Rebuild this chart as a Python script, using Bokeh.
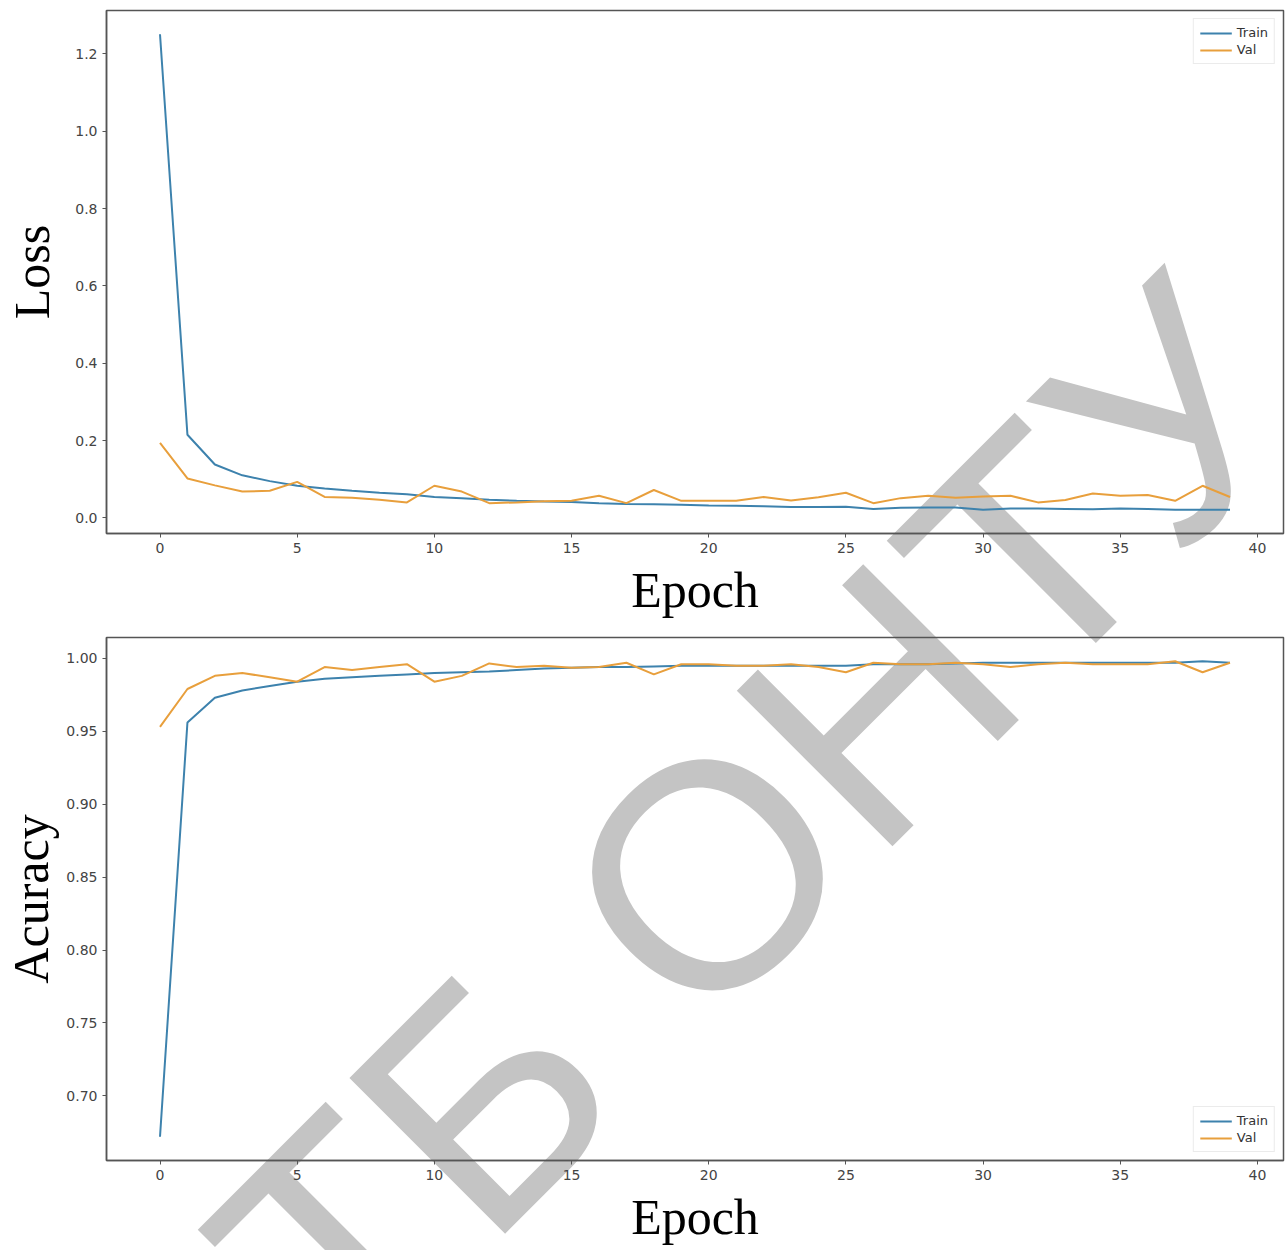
import math
from bokeh.plotting import figure
from bokeh.layouts import column
from bokeh.models import Range1d, Label, Legend, LegendItem, FixedTicker
from bokeh.embed import file_html
from bokeh.resources import INLINE

epochs = list(range(40))

train_loss = [1.251, 0.215, 0.138, 0.110, 0.095, 0.083, 0.076, 0.070, 0.065, 0.061,
              0.054, 0.051, 0.047, 0.044, 0.042, 0.041, 0.038, 0.036, 0.035, 0.034,
              0.032, 0.031, 0.030, 0.028, 0.028, 0.029, 0.023, 0.026, 0.027, 0.027,
              0.021, 0.024, 0.024, 0.023, 0.022, 0.024, 0.023, 0.021, 0.021, 0.021]
val_loss = [0.194, 0.102, 0.084, 0.068, 0.070, 0.093, 0.054, 0.052, 0.047, 0.040,
            0.083, 0.068, 0.038, 0.040, 0.043, 0.044, 0.057, 0.038, 0.072, 0.044,
            0.044, 0.044, 0.054, 0.045, 0.053, 0.065, 0.038, 0.051, 0.057, 0.052,
            0.055, 0.057, 0.040, 0.046, 0.063, 0.057, 0.059, 0.044, 0.083, 0.054]

train_acc = [0.672, 0.956, 0.973, 0.978, 0.981, 0.984, 0.986, 0.987, 0.988, 0.989,
             0.990, 0.9905, 0.991, 0.992, 0.993, 0.9935, 0.994, 0.994, 0.9945, 0.995,
             0.995, 0.995, 0.995, 0.995, 0.995, 0.995, 0.996, 0.996, 0.996, 0.9965,
             0.997, 0.997, 0.997, 0.997, 0.997, 0.997, 0.997, 0.997, 0.998, 0.997]
val_acc = [0.953, 0.979, 0.988, 0.990, 0.987, 0.984, 0.994, 0.992, 0.994, 0.996,
           0.984, 0.988, 0.9965, 0.994, 0.995, 0.9935, 0.994, 0.997, 0.989, 0.996,
           0.996, 0.995, 0.995, 0.996, 0.994, 0.9905, 0.997, 0.996, 0.996, 0.997,
           0.996, 0.994, 0.996, 0.997, 0.996, 0.996, 0.996, 0.998, 0.9905, 0.997]

x_ticks = [0, 5, 10, 15, 20, 25, 30, 35, 40]
loss_ticks = [0.0, 0.2, 0.4, 0.6, 0.8, 1.0, 1.2]
acc_ticks = [0.70, 0.75, 0.80, 0.85, 0.90, 0.95, 1.00]
loss_tick_labels = ["0.0", "0.2", "0.4", "0.6", "0.8", "1.0", "1.2"]
acc_tick_labels = ["0.70", "0.75", "0.80", "0.85", "0.90", "0.95", "1.00"]

series_names = ["Train", "Val"]
TRAIN_C = "#3d82ad"
VAL_C = "#e89f3c"
W = 1288
H_TOTAL = 1250
FRAME_L, FRAME_R = 105, 1283
WATERMARK = "ТБ ОНТУ"
WM_CENTER = (710, 826)   # page pixel position of watermark centre


def pad(lo, hi):
    m = (hi - lo) * 0.05
    return lo - m, hi + m


def make(yvals_a, yvals_b, ticks, tick_labels, ylabel, height, top_b, bot_b,
         legend_loc, label_standoff):
    x0, x1 = pad(0, 39)
    y0, y1 = pad(min(yvals_a + yvals_b), max(yvals_a + yvals_b))
    p = figure(width=W, height=height, output_backend="svg", toolbar_location=None,
               x_range=Range1d(x0, x1), y_range=Range1d(y0, y1),
               min_border_left=FRAME_L, min_border_right=W - FRAME_R,
               min_border_top=top_b, min_border_bottom=bot_b)
    # transparent, so the watermark layer underneath shows through
    p.background_fill_alpha = 0
    p.border_fill_alpha = 0
    p.outline_line_color = "#555555"
    p.outline_line_width = 1.5
    p.xgrid.visible = False
    p.ygrid.visible = False

    r1 = p.line(epochs, yvals_a, line_color=TRAIN_C, line_width=2)
    r2 = p.line(epochs, yvals_b, line_color=VAL_C, line_width=2)

    for ax in (p.xaxis[0], p.yaxis[0]):
        ax.axis_line_color = "#555555"
        ax.axis_line_width = 1.5
        ax.major_tick_line_color = "#555555"
        ax.major_tick_out = 4
        ax.major_tick_in = 0
        ax.minor_tick_line_color = None
        ax.major_label_text_font = "DejaVu Sans"
        ax.major_label_text_font_size = "14px"
        ax.major_label_text_color = "#444444"
        ax.major_label_standoff = 5
        ax.axis_label_text_font = "Liberation Serif"
        ax.axis_label_text_font_style = "normal"
        ax.axis_label_text_font_size = "50px"
        ax.axis_label_text_color = "black"

    p.xaxis.ticker = FixedTicker(ticks=x_ticks)
    p.yaxis.ticker = FixedTicker(ticks=ticks)
    p.yaxis.major_label_overrides = {t: s for t, s in zip(ticks, tick_labels)}
    p.xaxis.axis_label = "Epoch"
    p.xaxis.axis_label_standoff = 6
    p.yaxis.axis_label = ylabel
    p.yaxis.axis_label_standoff = label_standoff

    legend = Legend(items=[LegendItem(label=series_names[0], renderers=[r1]),
                           LegendItem(label=series_names[1], renderers=[r2])],
                    location=legend_loc)
    legend.label_text_font = "DejaVu Sans"
    legend.label_text_font_size = "13px"
    legend.label_text_color = "#333333"
    legend.label_height = 14
    legend.glyph_height = 14
    legend.glyph_width = 32
    legend.spacing = 2
    legend.padding = 6
    legend.margin = 8
    legend.border_line_color = "#d8d8d8"
    legend.border_line_width = 1
    legend.background_fill_color = "white"
    legend.background_fill_alpha = 0.8
    p.add_layout(legend)
    return p


# watermark layer: a bare full-page figure whose frame covers the whole canvas
pw = figure(width=W, height=H_TOTAL, output_backend="svg", toolbar_location=None,
            x_range=Range1d(0, W), y_range=Range1d(0, H_TOTAL),
            x_axis_type=None, y_axis_type=None, min_border=0)
pw.outline_line_color = None
pw.background_fill_color = "white"
pw.border_fill_color = "white"
pw.xgrid.visible = False
pw.ygrid.visible = False
wm = Label(x=WM_CENTER[0], y=H_TOTAL - WM_CENTER[1], text=WATERMARK,
           angle=math.radians(45), text_align="center", text_baseline="middle",
           text_font="Liberation Sans", text_font_size="320px",
           text_color="#c4c4c4")
pw.add_layout(wm)

p1 = make(train_loss, val_loss, loss_ticks, loss_tick_labels, "Loss",
          625, 10, 92, "top_right", 12)
p1.margin = (-H_TOTAL, 0, 0, 0)
p2 = make(train_acc, val_acc, acc_ticks, acc_tick_labels, "Acuracy",
          625, 12, 90, "bottom_right", 4)

layout = column(pw, p1, p2, spacing=0)
open("out.html", "w").write(file_html(layout, INLINE))
